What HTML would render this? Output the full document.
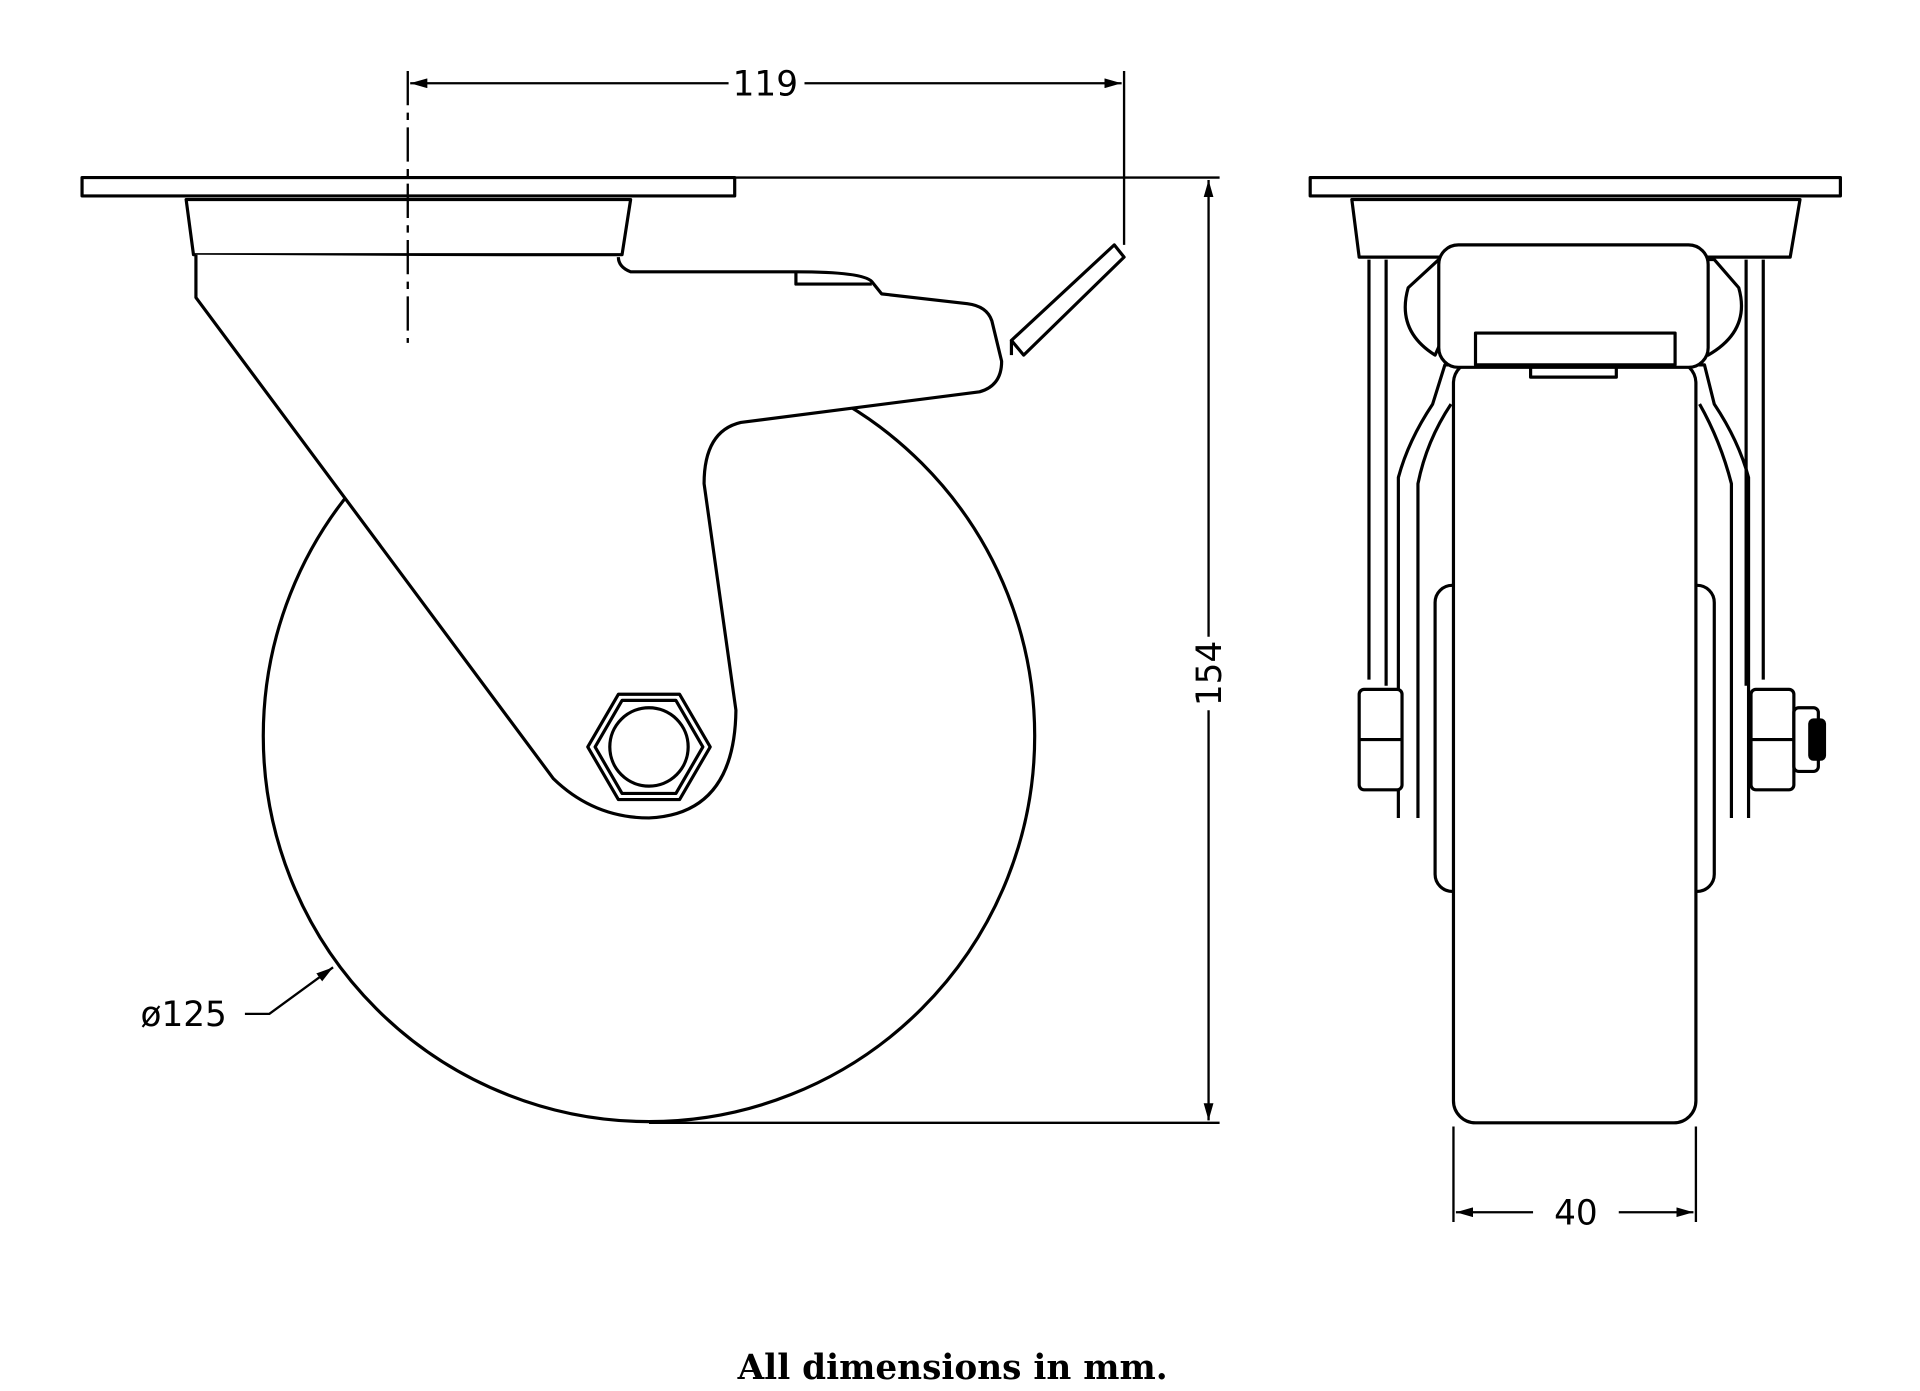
<!DOCTYPE html>
<html><head><meta charset="utf-8"><style>
html,body{margin:0;padding:0;background:#fff;}
svg{display:block;}
text{font-family:"DejaVu Sans","Liberation Sans",sans-serif;fill:#000;}
</style></head><body>
<svg width="1920" height="1391" viewBox="0 0 1568 1136" xmlns="http://www.w3.org/2000/svg">
<defs>
<marker id="ar" markerWidth="14" markerHeight="8" refX="14" refY="4" orient="auto" markerUnits="userSpaceOnUse"><path d="M0,0 L14,4 L0,8 z" fill="#000"/></marker>
</defs>
<g fill="none" stroke="#000" stroke-width="2.6" stroke-linejoin="round">
<rect x="67" y="145" width="533" height="15" fill="#fff"/>
<path d="M152,163 L515,163 L508,208 L158,208 Z" fill="#fff"/>
<circle cx="530" cy="601" r="315" fill="#fff"/>
<path d="M160,208 L160,243 L452,636 Q485,668 530,668 Q600,665 601,580 L575,395 Q575,352 605,345 L800,320 Q818,315 818,295 L810,262 Q806,250 790,248 L720,240 L712,230 Q705,222 650,222 L515,222 Q505,218 505,210" fill="#fff"/>
<path d="M650,222 L650,232 L712,232"/>
<path d="M826,278 L910,200 L918,210 L836,290 Z" fill="#fff"/>
<path d="M826,278 L826,290"/>
<polygon points="480,610 505,567 555,567 580,610 555,653 505,653" fill="#fff"/>
<polygon points="486,610 508,572 552,572 574,610 552,648 508,648"/>
<circle cx="530" cy="610" r="32"/>
<rect x="1070" y="145" width="433" height="15" fill="#fff"/>
<path d="M1104,163 L1470,163 L1462,210 L1110,210 Z" fill="#fff"/>
<path d="M1118,212 L1118,555 M1440,212 L1440,555 M1132,212 L1132,560 M1426,212 L1426,560"/>
<rect x="1172" y="478" width="228" height="250" rx="14" fill="#fff"/>
<rect x="1187" y="295" width="198" height="622" rx="18" fill="#fff"/>
<path d="M1142,668 L1142,390 Q1150,360 1170,330 L1180,298 L1205,298 L1205,272 L1180,272 L1172,290 Q1140,270 1150,235 L1175,212 L1400,212 L1420,235 Q1430,270 1395,290 L1390,272 L1368,272 L1368,298 L1392,298 L1400,330 Q1420,360 1428,390 L1428,668" fill="none"/>
<path d="M1158,668 L1158,395 Q1165,360 1185,330 M1414,668 L1414,395 Q1405,360 1388,330"/>
<rect x="1175" y="200" width="220" height="100" rx="16" fill="#fff"/>
<rect x="1205" y="272" width="163" height="26" />
<path d="M1250,298 L1250,308 L1320,308 L1320,298"/>
<rect x="1110" y="563" width="35" height="82" rx="4" fill="#fff"/>
<path d="M1110,604 L1145,604"/>
<rect x="1430" y="563" width="35" height="82" rx="4" fill="#fff"/>
<path d="M1430,604 L1465,604"/>
<rect x="1465" y="578" width="20" height="52" rx="4" fill="#fff"/>
<rect x="1478" y="588" width="12" height="32" rx="3" fill="#000"/>
</g>
<g stroke="#000" stroke-width="1.9" fill="none">
<path d="M333,58 L333,280" stroke-dasharray="28,6,6,6"/>
<path d="M918,58 L918,200"/>
<path d="M595,68 L335,68" marker-end="url(#ar)"/>
<path d="M657,68 L916,68" marker-end="url(#ar)"/>
<path d="M600,145 L996,145 M530,917 L996,917"/>
<path d="M987,520 L987,147" marker-end="url(#ar)"/>
<path d="M987,580 L987,915" marker-end="url(#ar)"/>
<path d="M1187,920 L1187,998 M1385,920 L1385,998"/>
<path d="M1252,990 L1189,990" marker-end="url(#ar)"/>
<path d="M1322,990 L1383,990" marker-end="url(#ar)"/>
<path d="M200,828 L220,828 L272,790" marker-end="url(#ar)"/>
</g>
<text x="625" y="78" font-size="28" text-anchor="middle">119</text>
<text transform="translate(997,550) rotate(-90)" font-size="28" text-anchor="middle">154</text>
<text x="1287" y="1000" font-size="28" text-anchor="middle">40</text>
<text x="150" y="838" font-size="28" text-anchor="middle">ø125</text>
<text x="778" y="1126" font-size="28" font-weight="bold" text-anchor="middle" style="font-family:'DejaVu Serif','Liberation Serif',serif">All dimensions in mm.</text>
</svg>
</body></html>
